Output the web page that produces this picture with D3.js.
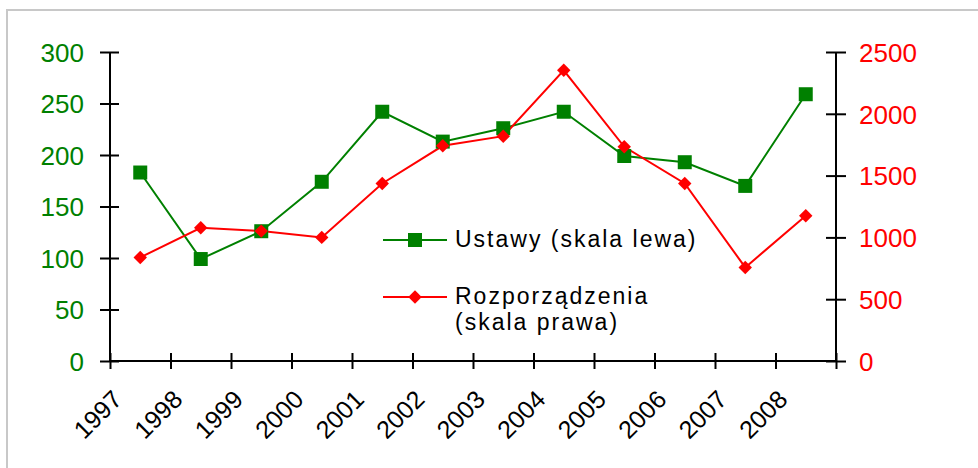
<!DOCTYPE html>
<html><head><meta charset="utf-8">
<script src="https://cdn.jsdelivr.net/npm/d3@7/dist/d3.min.js"></script>
<style>
html,body{margin:0;padding:0;background:#fff;}
svg{display:block;font-family:"Liberation Sans",Arial,sans-serif;}
</style></head>
<body>
<svg id="chart" width="978" height="468"></svg>
<script>
const years = ["1997","1998","1999","2000","2001","2002","2003","2004","2005","2006","2007","2008"];
const ustawy = [183, 99, 126, 174, 242, 213, 226, 242, 199, 193, 170, 259];
const rozporzadzenia = [838, 1078, 1051, 1000, 1436, 1741, 1819, 2352, 1733, 1436, 757, 1175];
const leftTicks = [0, 50, 100, 150, 200, 250, 300];
const rightTicks = [0, 500, 1000, 1500, 2000, 2500];
const legendLabels = [["Ustawy (skala lewa)"], ["Rozporządzenia", "(skala prawa)"]];

const GREEN = "#008000", RED = "#ff0000";
const svg = d3.select("#chart");
const m = {left: 110, right: 836, top: 52, bottom: 361};

svg.append("rect").attr("x", 7).attr("y", 10).attr("width", 1100).attr("height", 600)
  .attr("fill", "none").attr("stroke", "#c8c8c8").attr("stroke-width", 2);

const x = d3.scaleBand().domain(years).range([m.left, m.right]).paddingInner(0).paddingOuter(0);
const yL = d3.scaleLinear().domain([0, 300]).range([m.bottom, m.top]);
const yR = d3.scaleLinear().domain([0, 2500]).range([m.bottom, m.top]);

// left axis
const gL = svg.append("g").attr("transform", `translate(${m.left},0)`)
  .call(d3.axisLeft(yL).tickValues(leftTicks).tickFormat(d3.format("d")).tickSize(10).tickPadding(16));
gL.select(".domain").attr("stroke", "#000").attr("stroke-width", 2).attr("d", `M0,${m.top}V${m.bottom}`);
gL.selectAll(".tick line").attr("x1", 9).attr("x2", -10).attr("stroke", "#000").attr("stroke-width", 2);
gL.selectAll(".tick text").attr("fill", GREEN).attr("font-size", 26).attr("font-family", "Liberation Sans, Arial, sans-serif").attr("dy", "0.36em");

// right axis
const gR = svg.append("g").attr("transform", `translate(${m.right},0)`)
  .call(d3.axisRight(yR).tickValues(rightTicks).tickFormat(d3.format("d")).tickSize(10).tickPadding(13));
gR.select(".domain").attr("stroke", "#000").attr("stroke-width", 2).attr("d", `M0,${m.top}V${m.bottom}`);
gR.selectAll(".tick line").attr("x1", -10).attr("x2", 10).attr("stroke", "#000").attr("stroke-width", 2);
gR.selectAll(".tick text").attr("fill", RED).attr("font-size", 26).attr("font-family", "Liberation Sans, Arial, sans-serif").attr("dy", "0.36em");

// bottom axis: ticks at band boundaries
const xb = d3.scalePoint().domain(d3.range(years.length + 1)).range([m.left, m.right]);
const gB = svg.append("g").attr("transform", `translate(0,${m.bottom})`)
  .call(d3.axisBottom(xb).tickSize(8).tickFormat(i => i < years.length ? years[i] : ""));
gB.select(".domain").attr("stroke", "#000").attr("stroke-width", 2).attr("d", `M${m.left},0H${m.right}`);
gB.selectAll(".tick line").attr("y1", -8).attr("y2", 8).attr("stroke", "#000").attr("stroke-width", 2);
gB.selectAll(".tick text").attr("fill", "#000").attr("font-size", 25)
  .attr("font-family", "Liberation Sans, Arial, sans-serif")
  .attr("text-anchor", "end").attr("dy", null).attr("y", null)
  .attr("transform", "translate(13,40) rotate(-45)");

const cx = d => x(d) + x.bandwidth() / 2;

// series lines
const lineL = d3.line().x((d, i) => cx(years[i])).y(d => yL(d));
const lineR = d3.line().x((d, i) => cx(years[i])).y(d => yR(d));
svg.append("path").datum(ustawy).attr("d", lineL).attr("fill", "none").attr("stroke", GREEN).attr("stroke-width", 2);
svg.append("path").datum(rozporzadzenia).attr("d", lineR).attr("fill", "none").attr("stroke", RED).attr("stroke-width", 2);

const sq = d3.symbol().type(d3.symbolSquare).size(14 * 14);
const dia = d3.symbol().type(d3.symbolSquare).size(9.5 * 9.5);
svg.append("g").selectAll("path").data(ustawy).join("path")
  .attr("d", sq).attr("transform", (d, i) => `translate(${cx(years[i])},${yL(d)})`).attr("fill", GREEN);
svg.append("g").selectAll("path").data(rozporzadzenia).join("path")
  .attr("d", dia).attr("transform", (d, i) => `translate(${cx(years[i])},${yR(d)}) rotate(45)`).attr("fill", RED);

// legend
const lg = svg.append("g").attr("font-family", "Liberation Sans, Arial, sans-serif").attr("font-size", 23);
const legY = [240, 297];
const cols = [GREEN, RED];
legY.forEach((ly, k) => {
  lg.append("line").attr("x1", 383).attr("x2", 447).attr("y1", ly).attr("y2", ly).attr("stroke", cols[k]).attr("stroke-width", 2);
  lg.append("path").attr("d", k === 0 ? sq : dia)
    .attr("transform", k === 0 ? `translate(415,${ly})` : `translate(415,${ly}) rotate(45)`).attr("fill", cols[k]);
  const t = lg.append("text").attr("x", 455).attr("y", ly + 7).attr("fill", "#000").attr("letter-spacing", 2);
  legendLabels[k].forEach((s, j) => t.append("tspan").attr("x", 455).attr("dy", j === 0 ? 0 : 26).text(s));
});
</script>
</body></html>
